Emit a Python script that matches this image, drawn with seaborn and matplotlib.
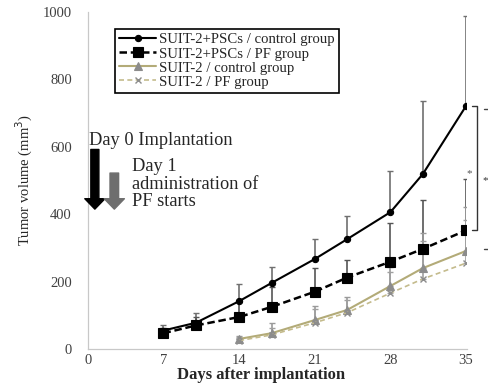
import numpy as np
import pandas as pd
import matplotlib
matplotlib.use("Agg")
import matplotlib.pyplot as plt
import seaborn as sns

# ---- data ----
days_psc = [7, 10, 14, 17, 21, 24, 28, 31, 35]
psc_control = [55, 78, 142, 196, 267, 326, 406, 519, 721]
psc_control_sd = [16, 29, 51, 47, 59, 69, 122, 217, 267]
psc_pf = [47, 70, 95, 125, 170, 212, 259, 297, 352]
psc_pf_sd = [15, 25, 45, 60, 70, 52, 115, 145, 152]

days_suit = [14, 17, 21, 24, 28, 31, 35]
suit_control = [30, 47, 86, 116, 187, 240, 291]
suit_control_sd = [10, 30, 42, 39, 56, 104, 130]
suit_pf = [25, 42, 78, 108, 166, 208, 255]
suit_pf_sd = [10, 20, 41, 37, 64, 112, 128]

labels = ["SUIT-2+PSCs / control group", "SUIT-2+PSCs / PF group",
          "SUIT-2 / control group", "SUIT-2 / PF group"]
xticks = [0, 7, 14, 21, 28, 35]
yticks = [0, 200, 400, 600, 800, 1000]

sns.set_style("white")
plt.rcParams['font.family'] = ['Liberation Serif', 'DejaVu Serif']

fig = plt.figure(figsize=(4.88, 3.84), dpi=100)
ax = fig.add_axes([0.180, 0.091, 0.775, 0.878])

series = [
    (days_psc, psc_control, psc_control_sd, labels[0],
     dict(color='black', lw=1.5, ls='-', marker='o', ms=4.5, mfc='black', mec='black'), '#707070'),
    (days_psc, psc_pf, psc_pf_sd, labels[1],
     dict(color='black', lw=1.8, ls=(0, (3, 1.5)), marker='s', ms=6.5, mfc='black', mec='black'), '#555555'),
    (days_suit, suit_control, suit_control_sd, labels[2],
     dict(color='#b3ab78', lw=1.5, ls='-', marker='^', ms=5.5, mfc='#8c8c8c', mec='#8c8c8c'), '#9a9a9a'),
    (days_suit, suit_pf, suit_pf_sd, labels[3],
     dict(color='#c4bb8c', lw=1.2, ls=(0, (3, 2)), marker='x', ms=5, mfc='#8c8c8c', mec='#8c8c8c', mew=1.0), '#a0a0a0'),
]

for x, y, sd, lab, st, ecol in series:
    ax.errorbar(x, y, yerr=[np.zeros(len(sd)), sd], fmt='none', ecolor=ecol,
                elinewidth=1.2, capsize=2.5, capthick=1.0, zorder=1)

for x, y, sd, lab, st, ecol in series:
    df = pd.DataFrame({'day': x, 'vol': y})
    kw = dict(st)
    color = kw.pop('color')
    sns.lineplot(data=df, x='day', y='vol', ax=ax, color=color, label=lab,
                 linestyle=kw.pop('ls'), linewidth=kw.pop('lw'),
                 marker=kw.pop('marker'), markersize=kw.pop('ms'),
                 markerfacecolor=kw.pop('mfc'), markeredgecolor=kw.pop('mec'),
                 markeredgewidth=kw.pop('mew', 0.8), zorder=3)

ax.set_xlim(0, 35)
ax.set_ylim(0, 1000)
ax.set_xticks(xticks)
ax.set_yticks(yticks)
ax.set_xticklabels([str(t) for t in xticks], fontsize=10.5, color='#404040')
ax.set_yticklabels([str(t) for t in yticks], fontsize=10.5, color='#404040')
ax.tick_params(axis='y', direction='out', length=6, width=0.8, color='#c8c8c8', pad=5.5)
ax.tick_params(axis='x', direction='out', length=2.5, width=0.8, color='#c8c8c8', pad=1)
for s in ['top', 'right']:
    ax.spines[s].set_visible(False)
for s in ['left', 'bottom']:
    ax.spines[s].set_color('#c8c8c8')
    ax.spines[s].set_linewidth(0.9)
ax.spines['bottom'].set_bounds(0, 35.1)

ax.set_xlabel("Days after implantation", fontsize=12, fontweight='bold')
ax.xaxis.set_label_coords(0.458, -0.052)
ax.set_ylabel("Tumor volume (mm$^3$)", fontsize=10.5)
ax.yaxis.set_label_coords(-0.14, 0.5)

leg = ax.legend(loc='upper left', bbox_to_anchor=(0.071, 0.950), borderaxespad=0,
                fontsize=10.6, handlelength=2.5, handletextpad=0.2, labelspacing=0.05,
                borderpad=0.3, fancybox=False, framealpha=1, edgecolor='black')
leg.get_frame().set_linewidth(1.2)

# annotations
fs = 13.2
ax.text(0.15, 620, "Day 0 Implantation", fontsize=fs, va='center', ha='left')
ax.text(4.05, 540, "Day 1", fontsize=fs, va='center', ha='left')
ax.text(4.05, 487, "administration of", fontsize=fs, va='center', ha='left')
ax.text(4.05, 439, "PF starts", fontsize=fs, va='center', ha='left')

ax.annotate('', xy=(0.65, 415), xytext=(0.65, 592),
            arrowprops=dict(arrowstyle='simple,head_length=7.5,head_width=14.5,tail_width=5.8',
                            mutation_scale=1, color='black', shrinkA=0, shrinkB=0),
            annotation_clip=False)
ax.annotate('', xy=(2.45, 415), xytext=(2.45, 522),
            arrowprops=dict(arrowstyle='simple,head_length=7.5,head_width=14.5,tail_width=6.2',
                            mutation_scale=1, color='#6e6e6e', shrinkA=0, shrinkB=0),
            annotation_clip=False)

# significance bracket
bx = 36.0
ax.plot([35.55, bx, bx, 35.55], [psc_control[-1], psc_control[-1], psc_pf[-1], psc_pf[-1]],
        color='#333333', lw=1.0, clip_on=False)
ax.text(35.3, 520, "*", fontsize=8, ha='center', va='center', color='#555555')
ax.text(36.75, 500, "*", fontsize=8, ha='center', va='center', color='#333333')
ax.plot([36.65, 37.2], [psc_control[-1] - 8, psc_control[-1] - 8], color='#444444', lw=1.0, clip_on=False)
ax.plot([36.65, 37.2], [suit_control[-1] + 6, suit_control[-1] + 6], color='#444444', lw=1.0, clip_on=False)

fig.savefig("out.png", dpi=100)
